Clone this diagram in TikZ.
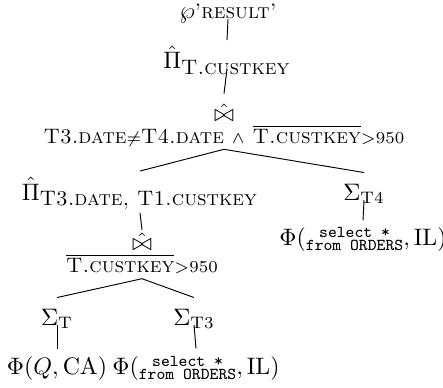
\documentclass[tikz,border=0pt]{standalone}
\usepackage{amsmath}
\usepackage{amssymb}
\usepackage{tikz}
\newcommand{\attr}[1]{\text{\fontsize{8.8}{10}\selectfont\textsc{#1}}}

\begin{document}
\begin{tikzpicture}[x=0.42pt, y=-0.42pt, every node/.style={inner sep=1pt, anchor=base}]
 	\useasboundingbox (0,0) rectangle (443,387);
 	\node (R) at (228,19) {$\wp$\attr{'result'}};
 	\node (P) at (227,69) {$\hat{\Pi}_{\attr{T.custkey}}$};
 	\node (J) at (224,121) {$\mathop{\hat{\bowtie}}\limits_{\attr{T3.date}{\neq}\attr{T4.date}\ \wedge\ \overline{\attr{T.custkey}}{>}950}$};
 	\node (P2) at (140,200) {$\hat{\Pi}_{\attr{T3.date, T1.custkey}}$};
 	\node (S4) at (364,200) {$\Sigma_{\mathrm{T4}}$};
 	\node (F4) at (363,245) {$\Phi(\substack{\texttt{select *}\\ \texttt{from ORDERS}},\mathrm{IL})$};
 	\node (J2) at (142,250) {$\mathop{\hat{\bowtie}}\limits_{\overline{\attr{T.custkey}}{>}950}$};
 	\node (ST) at (57,325) {$\Sigma_{\mathrm{T}}$};
 	\node (ST3) at (194,325) {$\Sigma_{\mathrm{T3}}$};
 	\node (FQ) at (57,374) {$\Phi(Q,\mathrm{CA})$};
 	\node (F3) at (196,374) {$\Phi(\substack{\texttt{select *}\\ \texttt{from ORDERS}},\mathrm{IL})$};
 	\draw (R.base) -- ([yshift=1.5pt]P.north);
 	\draw (P.base) -- ([yshift=3pt]J.north);
 	\draw ([yshift=1pt]J.south) -- ([yshift=1.5pt]P2.north);
 	\draw ([yshift=1pt]J.south) -- ([yshift=3.5pt]S4.north);
 	\draw (P2.south) -- (J2.north);
 	\draw (S4.base) -- ([yshift=1.6pt]F4.north);
 	\draw (J2.south) -- ([yshift=3.5pt]ST.north);
 	\draw (J2.south) -- ([yshift=3.5pt]ST3.north);
 	\draw (ST.base) -- ([yshift=2pt]FQ.north);
 	\draw (ST3.base) -- ([yshift=2pt]F3.north);
\end{tikzpicture}
\end{document}
